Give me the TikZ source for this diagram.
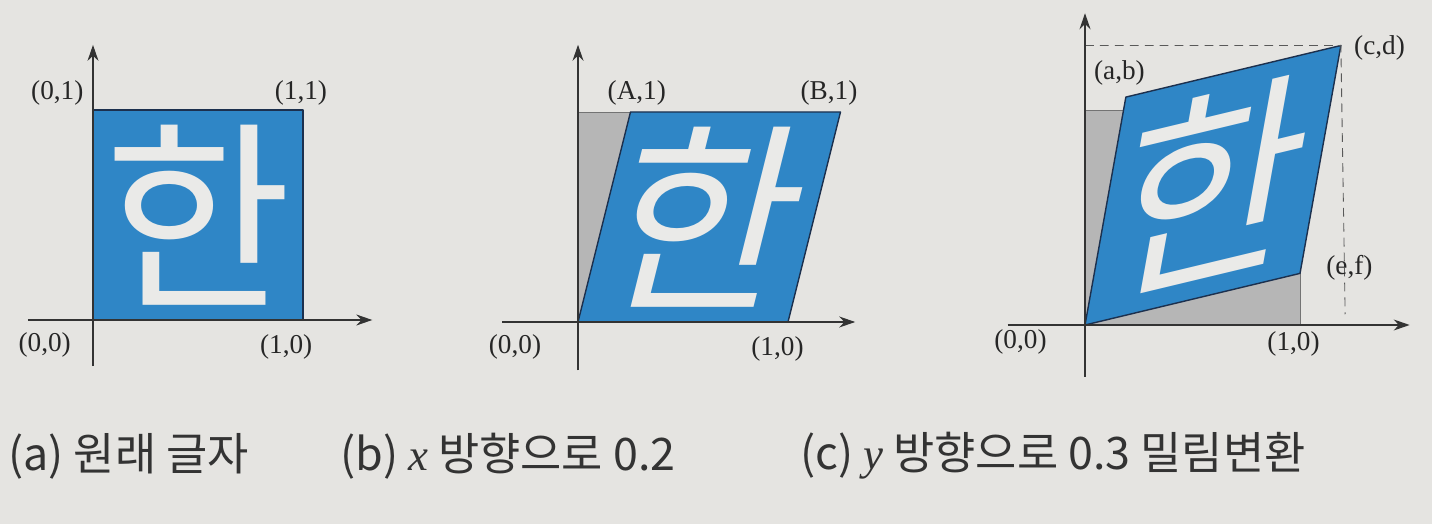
\documentclass[tikz,border=0pt]{standalone}
\usepackage{fontspec}
\setmainfont{Liberation Serif}
\newfontfamily\hangul{Noto Sans CJK KR}
\usetikzlibrary{arrows.meta}
\definecolor{paper}{RGB}{229,228,225}
\definecolor{hanblue}{RGB}{47,134,198}
\definecolor{hanedge}{RGB}{28,48,78}
\definecolor{shade}{RGB}{182,182,182}
\definecolor{glyph}{RGB}{234,234,232}
\def\axes(#1:#2)(#3:#4){\draw[axis] (#1,0) -- (#2,0); \draw[axis] (0,#3) -- (0,#4);}
\tikzset{
	axis/.style={line width=0.7pt, draw=black!80, -{Stealth[length=3.2mm,width=2.2mm]}},
	blueshape/.style={fill=hanblue, draw=hanedge, line width=0.8pt, line join=round},
	grayshape/.style={fill=shade, draw=black!55, line width=0.4pt},
	lbl/.style={font=\fontsize{15.5}{15.5}\selectfont, text=black!85, inner sep=0pt},
	han/.style={font=\hangul\fontsize{116}{116}\selectfont, text=glyph, inner sep=0pt, transform shape},
	captext/.style={font=\hangul\fontsize{25.5}{25.5}\selectfont, text=black!80, anchor=west, inner sep=0pt},
}

\begin{document}
\begin{tikzpicture}
		%%%%% START %%%%%
		
		\fill[paper] (0, 0) rectangle (28.64, 10.48);
		\useasboundingbox (0, 0) rectangle (28.64, 10.48);
		
		% (a) original
		\begin{scope}[shift={(1.86, 4.08)}, x=4.2cm, y=4.2cm]
			\draw[blueshape] (0, 0) rectangle (1, 1);
			\node[han] (hana) at (0.5, 0.5) {한};
			\axes(-0.31:1.33)(-0.22:1.31)
			\node[lbl] (a01) at (-0.17, 1.08) {(0,1)};
			\node[lbl] (a11) at (0.99, 1.08) {(1,1)};
			\node[lbl] (a00) at (-0.23, -0.12) {(0,0)};
			\node[lbl] (a10) at (0.92, -0.13) {(1,0)};
		\end{scope}
		
		% (b) shear in x
		\begin{scope}[shift={(11.56, 4.04)}, x=4.2cm, y=4.2cm]
			\draw[grayshape] (0, 0) rectangle (1, 1);
			\coordinate (bA) at (0.25, 1);
			\coordinate (bB) at (1.25, 1);
			\draw[blueshape] (0, 0) -- (1, 0) -- (bB) -- (bA) -- cycle;
			\begin{scope}[xslant=0.25]
				\node[han] (hanb) at (0.5, 0.5) {한};
			\end{scope}
			\axes(-0.36:1.32)(-0.23:1.32)
			\node[lbl] (bA1) at (0.28, 1.09) {(A,1)};
			\node[lbl] (bB1) at (1.195, 1.09) {(B,1)};
			\node[lbl] (b00) at (-0.30, -0.12) {(0,0)};
			\node[lbl] (b10) at (0.95, -0.13) {(1,0)};
		\end{scope}
		
		% (c) shear in y
		\begin{scope}[shift={(21.70, 3.98)}, x=4.3cm, y=4.3cm]
			\draw[grayshape] (0, 0) rectangle (1, 1);
			\coordinate (cab) at (0.19, 1.06);
			\coordinate (cef) at (1.0, 0.24);
			\coordinate (ccd) at (1.19, 1.30);
			\draw[blueshape] (0, 0) -- (cef) -- (ccd) -- (cab) -- cycle;
			\begin{scope}[cm={1.0,0.24,0.19,1.06,(0,0)}]
				\node[han] (hanc) at (0.5, 0.5) {한};
			\end{scope}
			\draw[black!65, line width=0.5pt, dash pattern=on 5pt off 3.5pt] (0, 1.30) -- (ccd) -- (1.21, 0.05);
			\axes(-0.36:1.51)(-0.24:1.45)
			\node[lbl] (cab1) at (0.16, 1.17) {(a,b)};
			\node[lbl] (ccd1) at (1.37, 1.29) {(c,d)};
			\node[lbl] (cef1) at (1.23, 0.265) {(e,f)};
			\node[lbl] (c00) at (-0.30, -0.08) {(0,0)};
			\node[lbl] (c10) at (0.97, -0.09) {(1,0)};
		\end{scope}
		
		% captions
		\node[captext] (capa) at (0.16, 1.36) {(a) 원래 글자};
		\node[captext] (capb) at (6.8, 1.36) {(b) {\rmfamily\itshape x} 방향으로 0.2};
		\node[captext] (capc) at (16.0, 1.36) {(c) {\rmfamily\itshape y} 방향으로 0.3 밀림변환};
		
		%%%%% END %%%%%
	\end{tikzpicture}
\end{document}
